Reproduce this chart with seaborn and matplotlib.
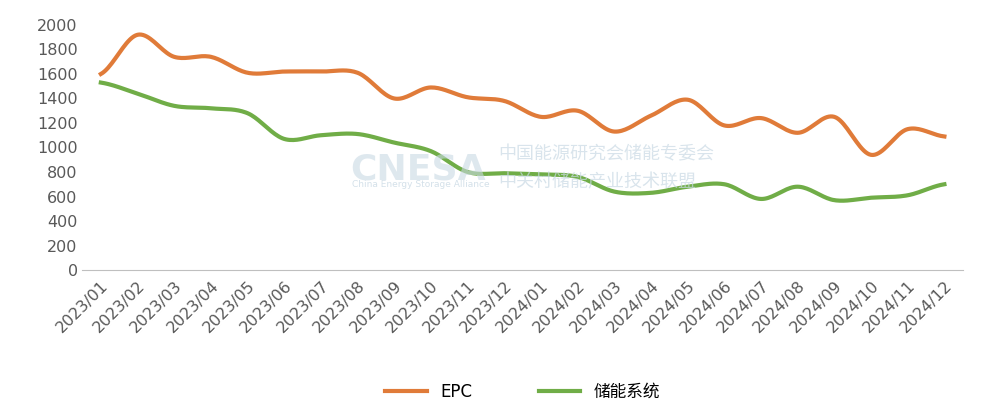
import numpy as np
import pandas as pd
import seaborn as sns
import matplotlib.pyplot as plt

months = ['2023/01', '2023/02', '2023/03', '2023/04', '2023/05', '2023/06',
          '2023/07', '2023/08', '2023/09', '2023/10', '2023/11', '2023/12',
          '2024/01', '2024/02', '2024/03', '2024/04', '2024/05', '2024/06',
          '2024/07', '2024/08', '2024/09', '2024/10', '2024/11', '2024/12']
epc = [1600, 1920, 1740, 1740, 1610, 1620, 1620, 1610, 1400, 1490, 1410, 1380,
       1250, 1300, 1130, 1260, 1390, 1180, 1240, 1120, 1250, 940, 1150, 1090]
storage = [1530, 1440, 1340, 1320, 1280, 1070, 1100, 1110, 1040, 970, 800, 790,
           780, 760, 640, 630, 680, 700, 580, 680, 570, 590, 610, 700]


def smooth(y, n=20):
    # Catmull-Rom spline through the points, only for drawing the curve
    y = np.asarray(y, float)
    p = np.concatenate([[y[0]], y, [y[-1]]])
    xs, ys = [], []
    for i in range(len(y) - 1):
        p0, p1, p2, p3 = p[i], p[i + 1], p[i + 2], p[i + 3]
        t = np.linspace(0, 1, n, endpoint=False)
        v = 0.5 * (2 * p1 + (-p0 + p2) * t + (2 * p0 - 5 * p1 + 4 * p2 - p3) * t ** 2
                   + (-p0 + 3 * p1 - 3 * p2 + p3) * t ** 3)
        xs.extend(i + t)
        ys.extend(v)
    xs.append(len(y) - 1)
    ys.append(y[-1])
    return np.array(xs), np.array(ys)


rows = []
for name, vals in [('EPC', epc), ('储能系统', storage)]:
    xs, ys = smooth(vals)
    rows.append(pd.DataFrame({'x': xs, 'y': ys, 'series': name}))
df = pd.concat(rows)

plt.rcParams['font.family'] = ['DejaVu Sans', 'Noto Sans CJK SC']
fig = plt.figure(figsize=(10.06, 4.03), dpi=100)
ax = fig.add_axes([0.082, 0.33, 0.875, 0.608])
sns.lineplot(data=df, x='x', y='y', hue='series', ax=ax, linewidth=3,
             palette={'EPC': '#E07B39', '储能系统': '#70AD47'}, estimator=None)

ax.set_xlim(-0.5, len(months) - 0.5)
ax.set_ylim(0, 2000)
ax.set_yticks(range(0, 2001, 200))
ax.set_xticks(range(len(months)))
ax.set_xticklabels(months, rotation=45, ha='right', rotation_mode='anchor')
ax.tick_params(axis='both', colors='#595959', labelsize=11.5, length=0)
ax.tick_params(axis='x', pad=6)
ax.set_xlabel('')
ax.set_ylabel('')
for s in ['top', 'right', 'left']:
    ax.spines[s].set_visible(False)
ax.spines['bottom'].set_color('#BFBFBF')

# watermark
fig.text(0.348, 0.555, 'CNESA', fontsize=26, color='#C9D9E4', fontweight='bold', alpha=0.6)
fig.text(0.35, 0.535, 'China Energy Storage Alliance', fontsize=6.5, color='#C9D9E4', alpha=0.8)
fig.text(0.495, 0.605, '中国能源研究会储能专委会', fontsize=13, color='#C9D9E4', alpha=0.7)
fig.text(0.495, 0.535, '中关村储能产业技术联盟', fontsize=13, color='#C9D9E4', alpha=0.7)

ax.legend(loc='upper center', bbox_to_anchor=(0.5, -0.4), ncol=2, frameon=False,
          fontsize=12, handlelength=2.5, columnspacing=4)
fig.savefig('out.png', dpi=100)
